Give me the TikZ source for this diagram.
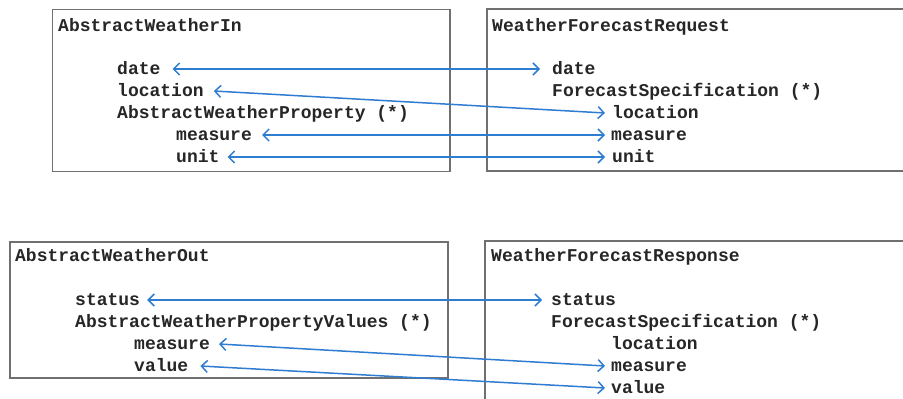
\documentclass[tikz,border=0pt]{standalone}
\usepackage{fontspec}
\newfontfamily\courfont{Liberation Mono}
\usetikzlibrary{arrows.meta}
\definecolor{linkblue}{HTML}{2E7DD1}
\definecolor{boxgray}{HTML}{707070}
\tikzset{
  lbl/.style={anchor=base west, inner sep=0pt, text height=10pt, text depth=0pt,
    font=\courfont\bfseries\fontsize{18}{20}\selectfont, text=black!85},
  boxframe/.style={draw=boxgray, line width=1.6pt},
  link/.style={draw=linkblue, line width=1.5pt,
    {Straight Barb[length=6pt,width=12pt,line width=1.5pt]}-{Straight Barb[length=6pt,width=12pt,line width=1.5pt]}}
}
\begin{document}
\begin{tikzpicture}[x=1pt,y=-1pt]
\useasboundingbox (0,0) rectangle (903,399);
\clip (0,0) rectangle (903,399);
% boxes
\draw[boxframe] (52.5,9.5) rectangle (450,171.5);
\draw[boxframe] (487,9) rectangle (920,171);
\draw[boxframe] (10,242) rectangle (448,378);
\draw[boxframe] (485,241) rectangle (920,430);
% top-left
\node[lbl] (inT) at (58,31) {AbstractWeatherIn};
\node[lbl] (inDate) at (117,74) {date};
\node[lbl] (inLoc) at (117,96) {location};
\node[lbl] (inProp) at (117,118) {AbstractWeatherProperty (*)};
\node[lbl] (inMeas) at (176,140) {measure};
\node[lbl] (inUnit) at (176,162) {unit};
% top-right
\node[lbl] (rqT) at (492,31) {WeatherForecastRequest};
\node[lbl] (rqDate) at (552,74) {date};
\node[lbl] (rqSpec) at (552,96) {ForecastSpecification (*)};
\node[lbl] (rqLoc) at (612,118) {location};
\node[lbl] (rqMeas) at (611,140) {measure};
\node[lbl] (rqUnit) at (612,162) {unit};
% bottom-left
\node[lbl] (outT) at (15,261) {AbstractWeatherOut};
\node[lbl] (outStat) at (75,305) {status};
\node[lbl] (outVals) at (75,327) {AbstractWeatherPropertyValues (*)};
\node[lbl] (outMeas) at (134,349) {measure};
\node[lbl] (outVal) at (134,371) {value};
% bottom-right
\node[lbl] (rsT) at (491,261) {WeatherForecastResponse};
\node[lbl] (rsStat) at (551,305) {status};
\node[lbl] (rsSpec) at (551,327) {ForecastSpecification (*)};
\node[lbl] (rsLoc) at (611,349) {location};
\node[lbl] (rsMeas) at (611,371) {measure};
\node[lbl] (rsVal) at (611,393) {value};
% links top
\draw[link] ([xshift=12pt]inDate.east) -- ([xshift=-12pt]rqDate.west);
\draw[link] ([xshift=10pt]inLoc.east) -- ([xshift=-7pt]rqLoc.west);
\draw[link] ([xshift=10pt]inMeas.east) -- ([xshift=-6pt]rqMeas.west);
\draw[link] ([xshift=8pt]inUnit.east) -- ([xshift=-7pt]rqUnit.west);
% links bottom
\draw[link] ([xshift=7pt]outStat.east) -- ([xshift=-9pt]rsStat.west);
\draw[link] ([xshift=9pt]outMeas.east) -- ([xshift=-6pt]rsMeas.west);
\draw[link] ([xshift=12pt]outVal.east) -- ([xshift=-6pt]rsVal.west);
\end{tikzpicture}
\end{document}
